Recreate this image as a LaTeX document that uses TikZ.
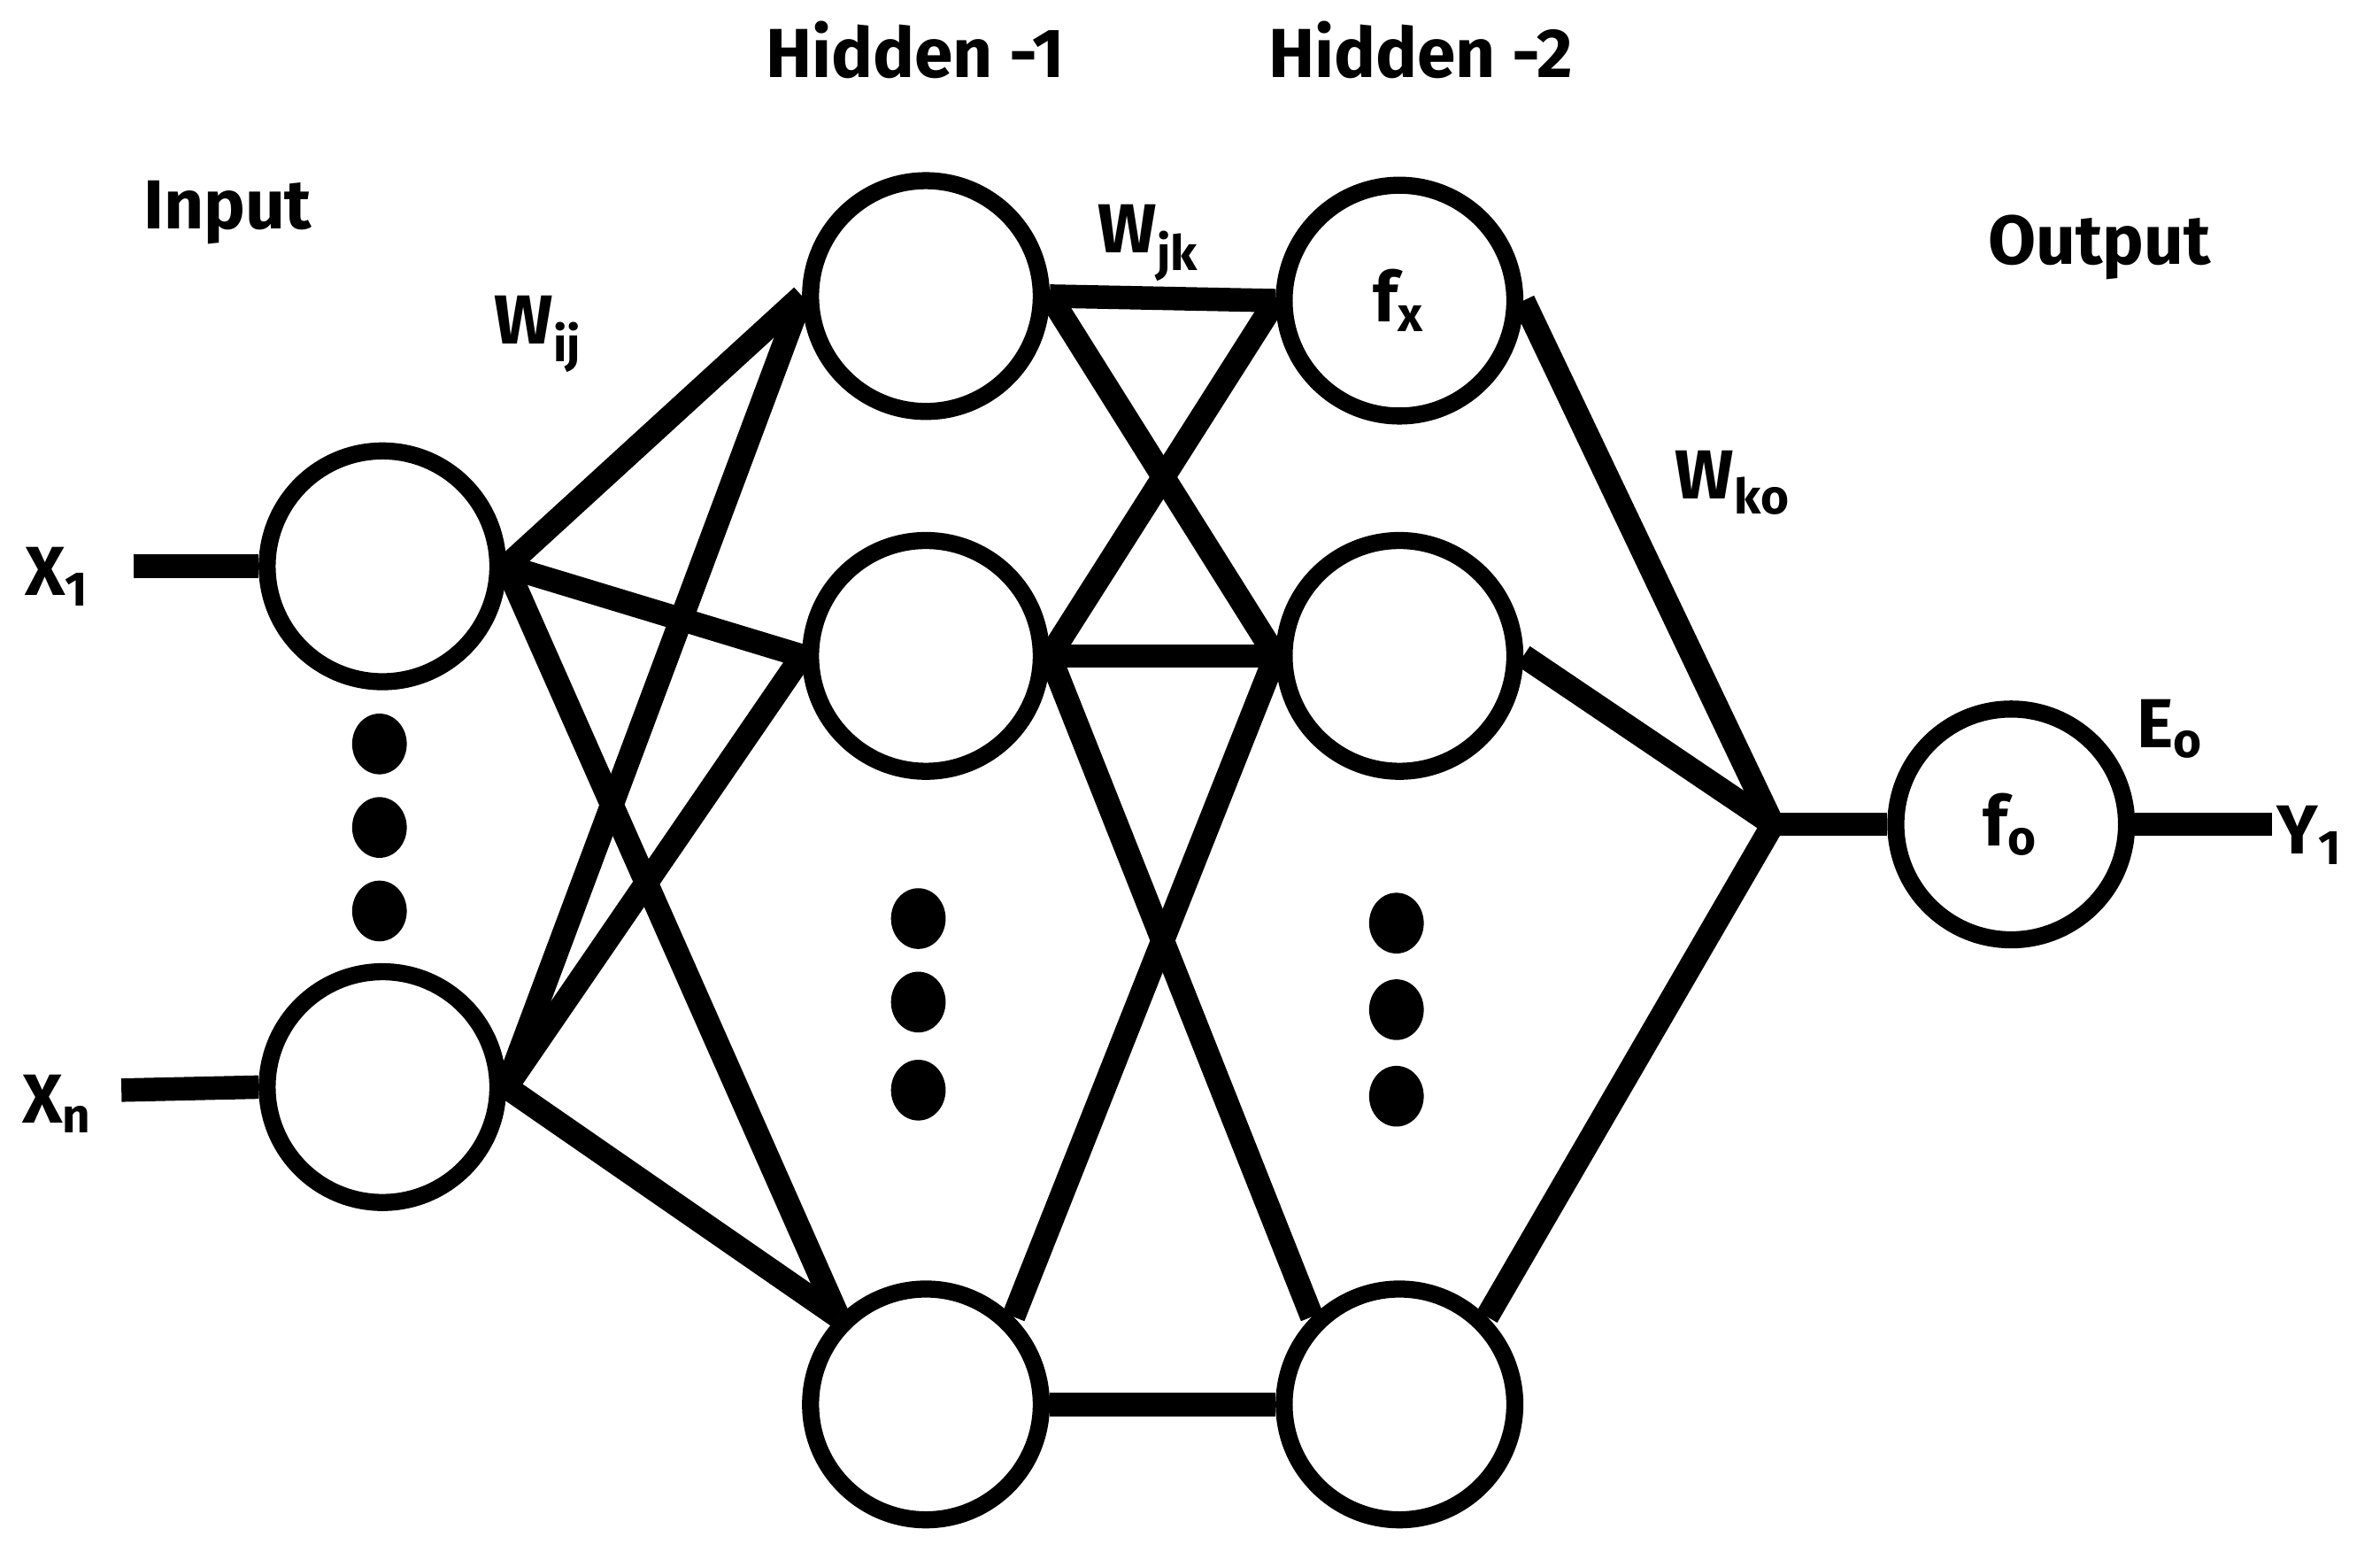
\documentclass[tikz,border=0pt]{standalone}
\usepackage{fontspec}
\setmainfont{Fira Sans}
\usetikzlibrary{positioning,shapes.geometric}
\begin{document}
\begin{tikzpicture}[
  neuron/.style={circle,draw,line width=3.2pt,minimum size=1.52cm,inner sep=0pt},
  edge/.style={line width=4.4pt},
  dot/.style={ellipse,fill,minimum width=0.36cm,minimum height=0.4cm,inner sep=0pt},
  lbl/.style={font=\fontsize{13}{15}\selectfont\bfseries}]
  \useasboundingbox (0,0) rectangle (15.68,-10.22);
  % texts
  \node[lbl] at(1.5,-1.4)(tin){Input};
  \node[lbl] at(6.03,-0.33)(th1){Hidden -1};
  \node[lbl] at(9.36,-0.33)(th2){Hidden -2};
  \node[lbl] at(13.83,-1.63)(tout){Output};
  \node[lbl] at(3.55,-2.2)(wij){W$_{\mathbf{ij}}$};
  \node[lbl] at(7.57,-1.6)(wjk){W$_{\mathbf{jk}}$};
  \node[lbl] at(11.42,-3.18)(wko){W$_{\mathbf{ko}}$};
  \node[lbl] at(14.3,-4.8)(eo){E$_{\mathbf{o}}$};
  % input nodes
  \node[neuron] at(2.52,-3.73)(i1){};
  \node[neuron] at(2.52,-7.16)(in){};
  \node[lbl] at(0.38,-3.8)(x1){X$_{\mathbf 1}$};
  \node[lbl] at(0.38,-7.27)(xn){X$_{\mathbf n}$};
  \coordinate (x1e) at(0.88,-3.73);
  \coordinate (xne) at(0.8,-7.18);
  % hidden nodes
  \node[neuron] at(6.1,-1.95)(a1){};
  \node[neuron] at(6.1,-4.32)(a2){};
  \node[neuron] at(6.1,-9.25)(a3){};
  \node[neuron] at(9.22,-1.98)(b1){\fontsize{13}{15}\selectfont\bfseries f$_{\mathbf x}$};
  \node[neuron] at(9.22,-4.32)(b2){};
  \node[neuron] at(9.22,-9.25)(b3){};
  % output
  \node[neuron] at(13.25,-5.43)(o){\fontsize{13}{15}\selectfont\bfseries f$_{\mathbf o}$};
  \coordinate (j) at(11.68,-5.43);
  \coordinate (y1e) at(14.97,-5.43);
  \node[lbl] at(15.22,-5.5)(y1){Y$_{\mathbf 1}$};
  % dots
  \foreach \y in {4.9,5.45,6.0} \node[dot] at(2.5,-\y){};
  \foreach \y in {6.05,6.6,7.18} \node[dot] at(6.05,-\y){};
  \foreach \y in {6.08,6.65,7.22} \node[dot] at(9.2,-\y){};
  % connections
  \draw[edge] (x1e) -- (i1.west);
  \draw[edge] (xne) -- (in.west);
  \foreach \s in {i1,in} {
    \draw[edge] (\s.east) -- (a1.west);
    \draw[edge] (\s.east) -- (a2.west);
    \draw[edge] (\s.east) -- (a3.135);
  }
  \draw[edge] (a1.east) -- (b1.west);
  \draw[edge] (a1.east) -- (b2.west);
  \draw[edge] (a2.east) -- (b1.west);
  \draw[edge] (a2.east) -- (b2.west);
  \draw[edge] (a2.east) -- (b3.135);
  \draw[edge] (a3.45) -- (b2.west);
  \draw[edge] (a3.east) -- (b3.west);
  \draw[edge] (b1.east) -- (j);
  \draw[edge] (b2.east) -- (j);
  \draw[edge] (b3.45) -- (j);
  \draw[edge] (j) -- (o.west);
  \draw[edge] (o.east) -- (y1e);
\end{tikzpicture}
\end{document}
